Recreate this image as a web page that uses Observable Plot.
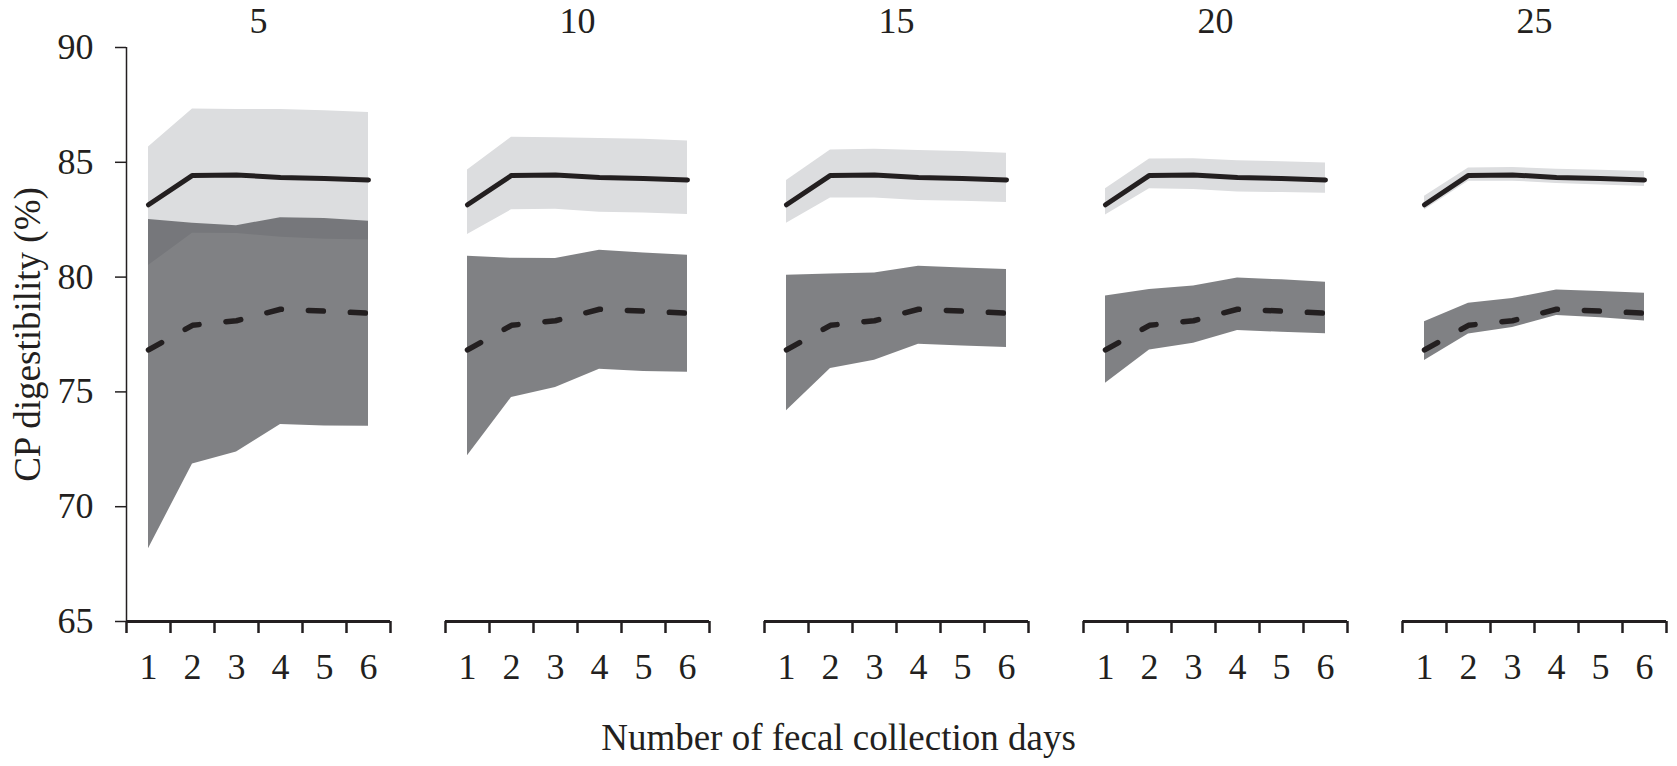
<!DOCTYPE html>
<html>
<head>
<meta charset="utf-8">
<script src="https://cdn.jsdelivr.net/npm/d3@7"></script>
<script src="https://cdn.jsdelivr.net/npm/@observablehq/plot@0.6"></script>
<style>
  html, body { margin: 0; padding: 0; background: #fff; }
  #wrap { position: relative; width: 1677px; height: 766px; }
  #wrap svg { display: block; }
  #xtitle { position: absolute; left: 0; top: 720px; width: 1677px; text-align: center;
            font-family: 'Liberation Serif', 'Times New Roman', serif; font-size: 37px; line-height: 36px; color: #231f20; }
</style>
</head>
<body>
<div id="wrap">
  <div id="chart"></div>
  <div id="xtitle">Number of fecal collection days</div>
</div>
<script>
// Facet labels (top of each panel)
const facets = [5, 10, 15, 20, 25];
// x categories
const days = [1, 2, 3, 4, 5, 6];
// band boundary ticks on x axis
const dayBounds = [0.5, 1.5, 2.5, 3.5, 4.5, 5.5, 6.5];
// y ticks
const yTicks = [65, 70, 75, 80, 85, 90];
const yLabel = "CP digestibility (%)";

// mean lines (identical in every panel)
const solidMean  = [83.15, 84.43, 84.45, 84.34, 84.29, 84.23];
const dashedMean = [76.83, 77.9, 78.1, 78.6, 78.52, 78.43];

// light grey band (around solid line), one row per facet
const lightUpper = [
  [85.67, 87.32, 87.30, 87.30, 87.25, 87.17],
  [84.67, 86.09, 86.07, 86.04, 86.00, 85.93],
  [84.21, 85.54, 85.57, 85.51, 85.47, 85.39],
  [83.85, 85.14, 85.15, 85.07, 85.02, 84.97],
  [83.52, 84.75, 84.77, 84.70, 84.65, 84.60]
];
const lightLower = [
  [80.50, 81.91, 81.90, 81.74, 81.65, 81.62],
  [81.85, 82.93, 82.96, 82.82, 82.79, 82.73],
  [82.35, 83.44, 83.44, 83.34, 83.30, 83.25],
  [82.71, 83.85, 83.82, 83.71, 83.68, 83.65],
  [82.92, 84.18, 84.18, 84.08, 84.01, 83.95]
];
// dark grey band (around dashed line)
const darkUpper = [
  [82.51, 82.34, 82.24, 82.58, 82.55, 82.43],
  [80.91, 80.82, 80.81, 81.17, 81.05, 80.95],
  [80.08, 80.14, 80.18, 80.47, 80.40, 80.33],
  [79.18, 79.46, 79.61, 79.96, 79.88, 79.78],
  [78.06, 78.86, 79.07, 79.44, 79.37, 79.30]
];
const darkLower = [
  [68.17, 71.86, 72.38, 73.58, 73.52, 73.50],
  [72.22, 74.76, 75.19, 75.99, 75.89, 75.86],
  [74.18, 76.02, 76.38, 77.07, 77.00, 76.93],
  [75.38, 76.82, 77.12, 77.67, 77.60, 77.53],
  [76.37, 77.52, 77.80, 78.33, 78.23, 78.09]
];

const rows = [];
facets.forEach((f, i) => {
  days.forEach((d, j) => {
    rows.push({
      fx: f, day: d,
      solid: solidMean[j], dashed: dashedMean[j],
      lHi: lightUpper[i][j], lLo: lightLower[i][j],
      dHi: darkUpper[i][j], dLo: darkLower[i][j]
    });
  });
});

const ink = "#231f20";

const chart = Plot.plot({
  width: 1677,
  height: 700,
  marginLeft: 124,
  marginRight: 9,
  marginTop: 47,
  marginBottom: 79,
  style: { fontFamily: "'Liberation Serif', 'Times New Roman', serif", fontSize: "36px", color: ink, background: "#fff" },
  x: { domain: [0.5, 6.5] },
  y: { domain: [65, 90] },
  fx: { domain: facets, paddingInner: 0.171, paddingOuter: 0 },
  marks: [
    Plot.areaY(rows, { fx: "fx", x: "day", y1: "lLo", y2: "lHi", fill: "#dcdddf" }),
    Plot.areaY(rows, { fx: "fx", x: "day", y1: "dLo", y2: "dHi", fill: "rgb(77,78,82)", fillOpacity: 0.714 }),
    Plot.lineY(rows, { fx: "fx", x: "day", y: "solid", stroke: ink, strokeWidth: 5, strokeLinecap: "round", strokeLinejoin: "round" }),
    Plot.lineY(rows, { fx: "fx", x: "day", y: "dashed", stroke: ink, strokeWidth: 5.5, strokeDasharray: "15,27", strokeLinecap: "round", strokeLinejoin: "round" }),
    Plot.ruleY([65], { stroke: ink, strokeWidth: 3 }),
    Plot.axisX({ ticks: dayBounds, tickSize: 12, tickFormat: () => "", stroke: ink, strokeWidth: 2.5, label: null }),
    Plot.axisX({ ticks: days, tickSize: 0, tickPadding: 32, tickFormat: d => String(d), label: null, fill: ink }),
    Plot.axisY({ ticks: yTicks, tickSize: 11, tickPadding: 22, tickFormat: d => String(d), stroke: ink, strokeWidth: 1.5, label: null, fill: ink }),
    Plot.ruleX([{ fx: facets[0] }], { fx: "fx", x: 0.5, y1: 65, y2: 90, stroke: ink, strokeWidth: 1.5 }),
    Plot.axisFx({ anchor: "top", tickSize: 0, tickPadding: 15, label: null, fill: ink }),
    Plot.text([{ fx: facets[0] }], { fx: "fx", text: () => yLabel, frameAnchor: "left", dx: -98, rotate: -90, textAnchor: "middle", lineAnchor: "middle", fontSize: 37, fill: ink })
  ]
});
document.getElementById("chart").appendChild(chart);
</script>
</body>
</html>
